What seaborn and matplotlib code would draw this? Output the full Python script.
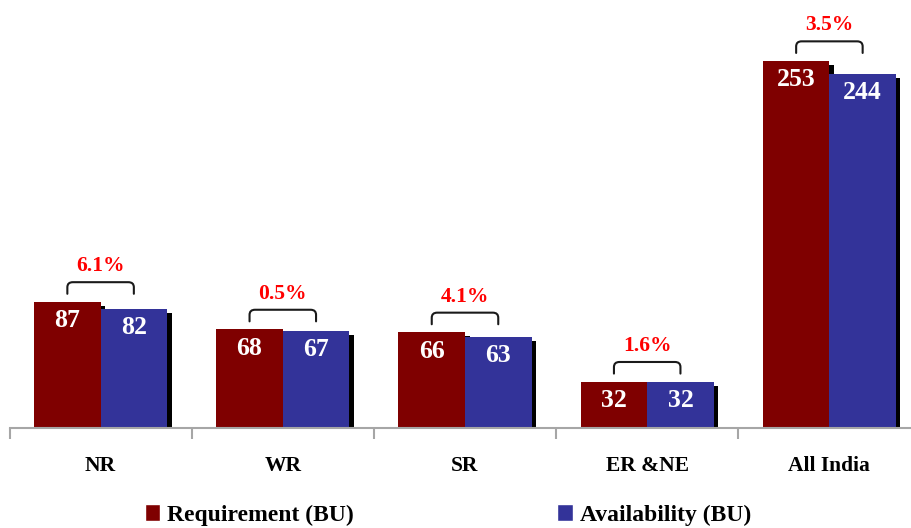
import numpy as np
import pandas as pd
import matplotlib
matplotlib.use("Agg")
import matplotlib.pyplot as plt
import matplotlib.patheffects as pe
from matplotlib.path import Path
from matplotlib.patches import PathPatch, Patch
import seaborn as sns

# ── data ─────────────────────────────────────────────────────────────────────
regions      = ["NR", "WR", "SR", "ER &NE", "All India"]
requirement  = [87, 68, 66, 32, 253]
availability = [82, 67, 63, 32, 244]
shortage_pct = ["6.1%", "0.5%", "4.1%", "1.6%", "3.5%"]
series       = ["Requirement (BU)", "Availability (BU)"]

RED, BLUE = "#7f0000", "#333399"

df = pd.DataFrame({
    "region": regions * 2,
    "series": [series[0]] * len(regions) + [series[1]] * len(regions),
    "value": requirement + availability,
})

sns.set_theme(style="white")
plt.rcParams["font.family"] = ["Liberation Serif", "DejaVu Serif"]
plt.rcParams["font.weight"] = "bold"
plt.rcParams["text.color"] = "black"
plt.rcParams["xtick.color"] = "black"

fig = plt.figure(figsize=(9.12, 5.28), dpi=100)
ax = fig.add_axes([9.5 / 912, 100 / 528, 911 / 912, 428 / 528])

BW = 0.73
sns.barplot(data=df, x="region", y="value", hue="series", order=regions,
            hue_order=series, palette=[RED, BLUE], width=BW, gap=0,
            saturation=1, legend=False, ax=ax, linewidth=0)

# drop shadow on every bar
shadow = [pe.SimplePatchShadow(offset=(3.3, -3), shadow_rgbFace="black", alpha=1.0),
          pe.Normal()]
for bar in ax.patches:
    bar.set_path_effects(shadow)

ax.set_xlim(-0.5, 4.5)
ax.set_ylim(0, 295)
ax.set_xlabel(""); ax.set_ylabel("")
ax.set_yticks([])
for s in ["top", "right", "left"]:
    ax.spines[s].set_visible(False)
ax.spines["bottom"].set_color("#a6a6a6")
ax.spines["bottom"].set_linewidth(1.5)

# category separators as minor ticks
ax.set_xticks(np.arange(len(regions) + 1) - 0.5, minor=True)
ax.tick_params(axis="x", which="minor", direction="out", length=8,
               width=1.5, color="#a6a6a6", bottom=True)
ax.tick_params(axis="x", which="major", length=0, pad=20, labelsize=15.5,
               labelcolor="black")
for lbl in ax.get_xticklabels():
    lbl.set_fontweight("bold")

bw = BW / 2
for i, (r, a, p) in enumerate(zip(requirement, availability, shortage_pct)):
    xr, xa = i - bw / 2, i + bw / 2
    ax.text(xr, r - 13, str(r), ha="center", va="center", color="white",
            fontsize=18.5, fontweight="bold")
    ax.text(xa, a - 13, str(a), ha="center", va="center", color="white",
            fontsize=18.5, fontweight="bold")

    # bracket with rounded corners
    top = max(r, a) + 13.5
    leg, ry, rx = 8, 3.5, 0.03
    verts = [(xr, top - leg), (xr, top - ry), (xr, top), (xr + rx, top),
             (xa - rx, top), (xa, top), (xa, top - ry), (xa, top - leg)]
    codes = [Path.MOVETO, Path.LINETO, Path.CURVE3, Path.CURVE3,
             Path.LINETO, Path.CURVE3, Path.CURVE3, Path.LINETO]
    ax.add_patch(PathPatch(Path(verts, codes), fill=False, edgecolor="#1a1a1a",
                           linewidth=1.5, capstyle="round"))
    ax.text(i, top + 11, p, ha="center", va="center", color="#ff0000",
            fontsize=15.5, fontweight="bold")

handles = [Patch(facecolor=RED, label=series[0]), Patch(facecolor=BLUE, label=series[1])]
fig.legend(handles=handles, loc="center", bbox_to_anchor=(448 / 912, 1 - 515 / 528),
           ncol=2, frameon=False, handlelength=0.65, handleheight=0.75,
           handletextpad=0.3, columnspacing=8.6, labelcolor="black",
           prop={"weight": "bold", "size": 17})

fig.savefig("out.png", dpi=100)
